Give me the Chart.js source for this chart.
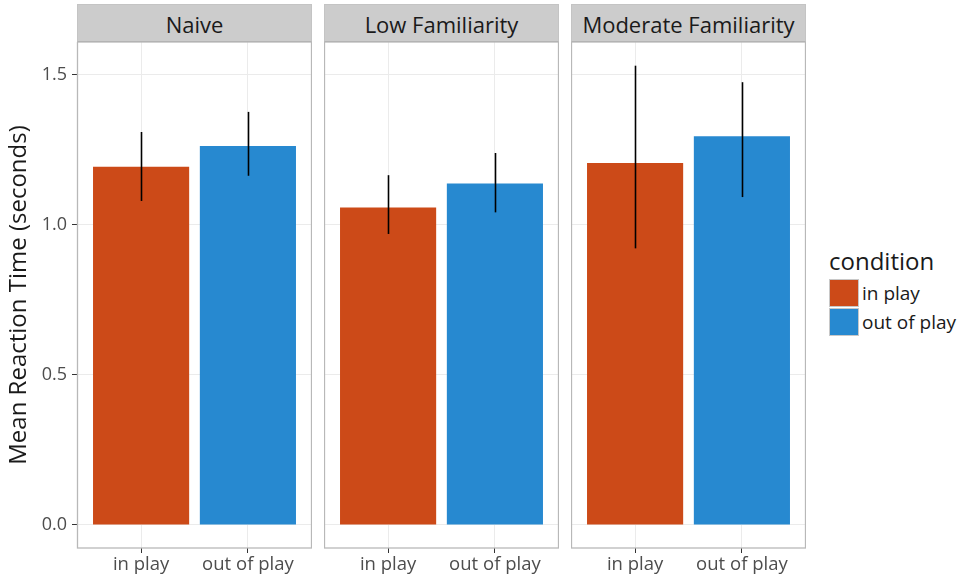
<!DOCTYPE html>
<html>
<head>
<meta charset="utf-8">
<script src="https://cdn.jsdelivr.net/npm/chart.js@4"></script>
<style>
  body { margin: 0; background: #fff; font-family: "Open Sans", sans-serif; }
  #wrap { position: relative; width: 962px; height: 583px; overflow: hidden; }
  canvas { position: absolute; }
  .strip { position: absolute; top: 4px; height: 38px; background: #cccccc; border: 1px solid #c4c4c4; border-bottom: 1px solid #b3b3b3;
           box-sizing: border-box; text-align: center; line-height: 38px; font-size: 22px; color: #1a1a1a; }
  .legend { position: absolute; left: 829px; top: 245px; color: #1a1a1a; }
  .legend .ttl { font-size: 24px; line-height: 32px; margin-bottom: 1px; }
  .legend .row { display: flex; align-items: center; height: 29px; font-size: 19px; }
  .legend .key { width: 30px; height: 28px; box-sizing: border-box; border: 1px solid #c8c8c8; margin-right: 3px; }
</style>
</head>
<body>
<div id="wrap"></div>
<script>
// ---- data ----
const panels = ['Naive', 'Low Familiarity', 'Moderate Familiarity'];
const categories = ['in play', 'out of play'];
const meanRT  = [[1.194, 1.263], [1.058, 1.138], [1.207, 1.296]];
const errLow  = [[1.080, 1.164], [0.970, 1.042], [0.922, 1.093]];
const errHigh = [[1.310, 1.377], [1.166, 1.240], [1.531, 1.476]];
const yTicks = [0, 0.5, 1.0, 1.5];
const colors = ['#CC4A18', '#2789D0'];

// panel boxes (left edge of plot area, width)
const panelLeft = [77, 324, 571];
const panelWidth = 235;
const plotTop = 42, plotBottom = 548;

const errorBars = {
  id: 'errorBars',
  afterDatasetsDraw(chart) {
    const { ctx, scales: { x, y } } = chart;
    const p = chart.options.plugins.errorBars.panel;
    ctx.save();
    ctx.strokeStyle = '#000';
    ctx.lineWidth = 1.6;
    categories.forEach((c, i) => {
      const px = Math.round(x.getPixelForValue(i + 1)) + 0.5;
      ctx.beginPath();
      ctx.moveTo(px, y.getPixelForValue(errLow[p][i]));
      ctx.lineTo(px, y.getPixelForValue(errHigh[p][i]));
      ctx.stroke();
    });
    // panel border
    const a = chart.chartArea;
    ctx.strokeStyle = '#b8b8b8';
    ctx.lineWidth = 1.3;
    ctx.strokeRect(a.left + 0.5, a.top, a.right - a.left - 1, a.bottom - a.top);
    ctx.restore();
  }
};

const wrap = document.getElementById('wrap');

panels.forEach((name, p) => {
  const first = p === 0;
  const yW = first ? 77 : 0;
  const cv = document.createElement('canvas');
  const w = yW + panelWidth, h = 583 - plotTop;
  cv.width = w; cv.height = h;
  cv.style.left = (panelLeft[p] - yW) + 'px';
  cv.style.top = plotTop + 'px';
  cv.style.width = w + 'px'; cv.style.height = h + 'px';
  wrap.appendChild(cv);

  const strip = document.createElement('div');
  strip.className = 'strip';
  strip.style.left = panelLeft[p] + 'px';
  strip.style.width = panelWidth + 'px';
  strip.textContent = name;
  wrap.appendChild(strip);

  new Chart(cv, {
    type: 'bar',
    data: {
      datasets: [{
        data: categories.map((c, i) => ({ x: i + 1, y: meanRT[p][i] })),
        backgroundColor: colors,
        borderWidth: 0,
        barPercentage: 0.9,
        categoryPercentage: 1
      }]
    },
    options: {
      responsive: false,
      animation: false,
      devicePixelRatio: 1,
      layout: { padding: 0 },
      plugins: {
        legend: { display: false },
        tooltip: { enabled: false },
        errorBars: { panel: p }
      },
      scales: {
        x: {
          type: 'linear',
          offset: false,
          min: 0.4, max: 2.6,
          afterBuildTicks: s => { s.ticks = [1, 2].map(v => ({ value: v })); },
          afterFit: s => { s.height = 583 - plotBottom; s.paddingLeft = 0; s.paddingRight = 0; },
          ticks: {
            callback: v => categories[v - 1],
            color: '#4d4d4d',
            font: { family: 'Open Sans', size: 18.5 },
            padding: 1,
            maxRotation: 0
          },
          grid: { offset: false, color: '#ebebeb', lineWidth: 1, tickColor: '#333333', tickLength: 5, tickWidth: 1 },
          border: { display: false }
        },
        y: {
          min: -0.077, max: 1.61,
          afterBuildTicks: s => { s.ticks = yTicks.map(v => ({ value: v })); },
          afterFit: s => { s.width = yW; s.paddingTop = 0; s.paddingBottom = 0; },
          ticks: {
            display: first,
            callback: v => v.toFixed(1),
            color: '#4d4d4d',
            font: { family: 'Open Sans', size: 18 },
            padding: 5
          },
          title: {
            display: first,
            text: 'Mean Reaction Time (seconds)',
            color: '#1a1a1a',
            font: { family: 'Open Sans', size: 24 },
            padding: { top: 5, bottom: 0 }
          },
          grid: { color: '#ebebeb', lineWidth: 1, tickColor: '#333333', tickLength: first ? 5 : 0, drawTicks: first },
          border: { display: false }
        }
      }
    },
    plugins: [errorBars]
  });
});

// legend
const lg = document.createElement('div');
lg.className = 'legend';
lg.innerHTML = '<div class="ttl">condition</div>' +
  categories.map((c, i) => `<div class="row"><div class="key" style="background:${colors[i]}"></div>${c}</div>`).join('');
wrap.appendChild(lg);
</script>
</body>
</html>
